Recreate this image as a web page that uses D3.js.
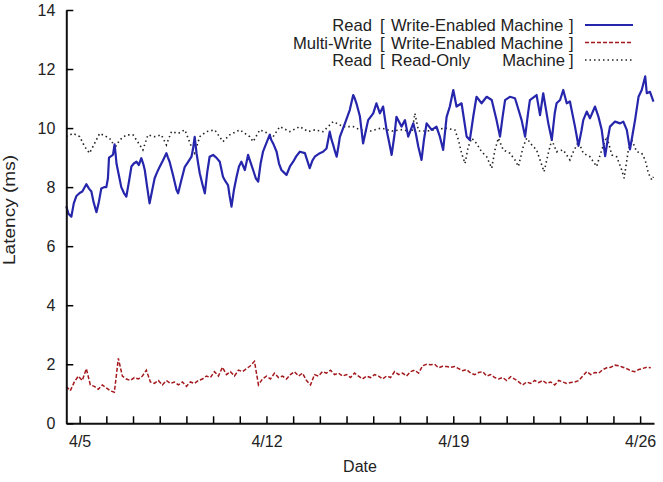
<!DOCTYPE html>
<html>
<head>
<meta charset="utf-8">
<script src="https://cdn.jsdelivr.net/npm/d3@7"></script>
<style>
  html, body { margin: 0; padding: 0; background: #fff; }
  svg { display: block; font-family: "Liberation Sans", Arial, Helvetica, sans-serif; }
</style>
</head>
<body>
<svg id="chart" width="663" height="482"></svg>
<script>
// ---- data (time in days since 4/5 00:00) ----
const dayTicks = d3.range(0, 22);
const labelDays = [0, 7, 14, 21];
const dateLabels = ["4/5", "4/12", "4/19", "4/26"];
const yTicks = [0, 2, 4, 6, 8, 10, 12, 14];

const readWriteMachine = [
  [-0.50,7.35],[-0.42,7.1],[-0.31,7.0],[-0.22,7.45],[-0.12,7.7],[0.00,7.8],[0.10,7.85],[0.25,8.1],
  [0.35,7.95],[0.44,7.85],[0.52,7.5],[0.63,7.15],[0.72,7.5],[0.81,7.95],[0.92,8.0],[1.00,8.0],
  [1.06,8.3],[1.10,9.0],[1.18,9.05],[1.25,9.1],[1.31,9.45],[1.35,9.1],[1.38,8.8],[1.47,8.4],
  [1.56,8.0],[1.66,7.8],[1.75,7.68],[1.85,8.2],[1.94,8.7],[2.03,8.8],[2.13,8.86],[2.22,8.75],
  [2.31,8.98],[2.38,8.8],[2.44,8.58],[2.53,8.0],[2.62,7.45],[2.72,7.9],[2.81,8.3],[2.90,8.5],
  [3.00,8.69],[3.12,8.9],[3.25,9.15],[3.31,9.0],[3.37,8.86],[3.50,8.4],[3.63,7.9],[3.69,7.79],
  [3.80,8.2],[3.94,8.69],[4.06,8.85],[4.19,9.03],[4.25,9.3],[4.31,9.7],[4.38,9.15],[4.44,8.8],
  [4.50,8.47],[4.60,8.1],[4.69,7.79],[4.78,8.5],[4.87,9.03],[5.00,9.09],[5.12,9.0],[5.25,8.86],
  [5.37,8.35],[5.46,8.2],[5.56,8.07],[5.62,7.7],[5.69,7.34],[5.78,7.9],[5.88,8.35],[5.97,8.7],
  [6.06,8.86],[6.19,8.58],[6.31,9.09],[6.40,8.85],[6.50,8.58],[6.60,8.3],[6.69,8.19],[6.78,8.8],
  [6.87,9.2],[7.00,9.5],[7.12,9.77],[7.18,9.6],[7.25,9.48],[7.38,9.2],[7.47,8.8],[7.56,8.58],
  [7.65,8.5],[7.75,8.41],[7.88,8.7],[8.00,8.86],[8.12,9.05],[8.25,9.2],[8.44,9.15],[8.53,8.9],
  [8.62,8.64],[8.72,8.9],[8.81,9.03],[9.00,9.15],[9.12,9.2],[9.25,9.31],[9.37,9.88],[9.44,9.6],
  [9.50,9.43],[9.57,9.2],[9.63,9.03],[9.70,9.4],[9.75,9.7],[9.94,10.16],[10.12,10.61],[10.25,11.12],
  [10.31,11.0],[10.37,10.84],[10.50,10.4],[10.62,9.48],[10.72,9.9],[10.81,10.27],[11.00,10.5],[11.12,10.84],
  [11.25,10.5],[11.37,10.73],[11.50,9.94],[11.60,9.5],[11.69,9.09],[11.80,9.8],[11.87,10.38],[12.06,10.05],
  [12.19,10.27],[12.31,9.71],[12.50,10.16],[12.60,9.8],[12.69,9.37],[12.81,8.92],[12.90,9.6],[13.00,10.16],
  [13.19,9.94],[13.37,10.05],[13.50,9.7],[13.62,9.26],[13.75,10.38],[13.87,10.73],[14.00,11.29],[14.12,10.73],
  [14.31,10.84],[14.50,9.71],[14.62,9.6],[14.75,10.4],[14.87,11.06],[15.06,10.84],[15.25,11.06],[15.44,10.95],
  [15.62,10.27],[15.75,9.71],[15.85,10.4],[15.94,10.95],[16.12,11.06],[16.31,11.01],[16.37,10.84],[16.56,10.27],
  [16.69,9.71],[16.80,10.5],[16.87,10.95],[17.12,11.12],[17.20,10.7],[17.25,10.44],[17.37,11.18],[17.56,10.16],
  [17.69,9.6],[17.80,10.5],[17.87,10.84],[18.00,10.95],[18.12,11.29],[18.25,10.84],[18.37,10.9],[18.56,10.05],
  [18.69,9.4],[18.80,9.9],[18.87,10.27],[19.00,10.56],[19.12,10.33],[19.31,10.73],[19.44,10.38],[19.56,9.94],
  [19.69,9.05],[19.80,9.7],[19.87,10.05],[20.06,10.22],[20.25,10.16],[20.37,10.22],[20.50,9.94],[20.62,9.28],
  [20.72,9.8],[20.81,10.27],[20.94,11.06],[21.06,11.29],[21.19,11.75],[21.25,11.18],[21.37,11.23],[21.50,10.9]
];

const readOnlyMachine = [
  [-0.50,9.71],[-0.25,9.82],[0.00,9.71],[0.19,9.37],[0.37,9.15],[0.56,9.48],[0.75,9.82],[1.00,9.71],
  [1.19,9.6],[1.31,9.31],[1.50,9.6],[1.75,9.77],[2.00,9.77],[2.25,9.43],[2.37,9.26],[2.56,9.77],
  [2.81,9.71],[3.06,9.77],[3.25,9.43],[3.44,9.88],[3.69,9.82],[3.94,9.94],[4.19,9.37],[4.31,9.15],
  [4.50,9.71],[4.75,9.88],[5.06,9.94],[5.37,9.54],[5.62,9.77],[6.00,9.94],[6.37,9.71],[6.50,9.54],
  [6.75,9.94],[7.06,9.82],[7.25,9.71],[7.50,10.05],[7.87,9.88],[8.25,10.05],[8.56,9.88],[8.81,9.94],
  [9.12,9.88],[9.50,10.22],[9.87,10.05],[10.25,10.05],[10.50,9.94],[10.90,9.9],[11.30,10.0],[11.70,9.9],
  [12.10,9.95],[12.45,9.85],[12.56,10.5],[12.70,9.9],[13.00,9.9],[13.40,9.95],[13.70,10.0],[14.06,9.94],
  [14.19,9.6],[14.31,9.15],[14.44,8.8],[14.56,9.37],[14.69,9.66],[14.87,9.48],[15.06,9.2],[15.25,9.03],
  [15.44,8.64],[15.56,9.26],[15.69,9.66],[15.87,9.26],[16.12,9.15],[16.31,8.92],[16.44,8.7],[16.62,9.37],
  [16.75,9.66],[16.94,9.43],[17.12,9.26],[17.25,8.92],[17.40,8.52],[17.56,9.15],[17.69,9.6],[17.87,9.2],
  [18.12,9.26],[18.37,8.92],[18.50,9.2],[18.69,9.54],[18.87,9.15],[19.12,9.03],[19.37,8.7],[19.56,9.26],
  [19.75,9.71],[19.94,9.09],[20.12,9.03],[20.31,8.58],[20.40,8.3],[20.56,9.26],[20.69,9.6],[20.87,9.2],
  [21.06,9.15],[21.19,8.92],[21.31,8.47],[21.44,8.24],[21.50,8.35]
];

// multi-write latency, one reading every 0.15 day starting 4/4 12:00
const multiWriteStart = -0.5;
const multiWriteStep = 0.15;
const multiWriteValues = [
  1.25,1.1,1.4,1.6,1.45,1.85,1.3,1.25,1.15,1.3,1.2,1.1,1.05,2.2,1.6,1.5,1.45,1.55,1.5,1.6,
  1.8,1.4,1.35,1.45,1.3,1.45,1.35,1.4,1.3,1.4,1.25,1.4,1.35,1.45,1.5,1.6,1.55,1.75,1.6,1.9,
  1.65,1.75,1.6,1.8,1.75,1.85,1.95,2.1,1.3,1.5,1.6,1.5,1.7,1.55,1.6,1.5,1.65,1.75,1.6,1.7,
  1.45,1.3,1.65,1.6,1.75,1.7,1.8,1.65,1.7,1.6,1.65,1.55,1.7,1.6,1.5,1.6,1.55,1.65,1.6,1.5,
  1.6,1.55,1.75,1.65,1.7,1.6,1.75,1.8,1.7,1.95,2.0,1.98,2.0,1.88,1.93,1.92,1.9,1.92,1.85,1.78,
  1.82,1.7,1.65,1.72,1.75,1.6,1.65,1.55,1.5,1.55,1.45,1.58,1.5,1.4,1.3,1.4,1.35,1.45,1.38,1.45,
  1.35,1.4,1.3,1.45,1.4,1.35,1.38,1.4,1.45,1.6,1.75,1.65,1.72,1.7,1.82,1.88,1.9,1.97,1.95,1.9,
  1.85,1.78,1.75,1.82,1.86,1.9,1.88
];

const legendLabels = ["Read", "Multi-Write", "Read"];
const legendMachines = [["Write-Enabled Machine", ""], ["Write-Enabled Machine", ""], ["Read-Only", "Machine"]];

// ---- drawing ----
const svg = d3.select("#chart");
const x = d3.scaleLinear().domain([-0.5, 21.52]).range([66.3, 654]);
const y = d3.scaleLinear().domain([0, 14]).range([423.3, 10]);

const multiWrite = multiWriteValues.map((v, i) => [multiWriteStart + i * multiWriteStep, v]);

const line = d3.line().x(d => x(d[0])).y(d => y(d[1]));

svg.append("path").datum(multiWrite).attr("d", line)
  .attr("fill", "none").attr("stroke", "#a3181c").attr("stroke-width", 1.5)
  .attr("stroke-dasharray", "4,2");

svg.append("path").datum(readOnlyMachine).attr("d", line)
  .attr("fill", "none").attr("stroke", "#222").attr("stroke-width", 1.6)
  .attr("stroke-dasharray", "1.5,3");

svg.append("path").datum(readWriteMachine).attr("d", line)
  .attr("fill", "none").attr("stroke", "#2626ad").attr("stroke-width", 2.2)
  .attr("stroke-linejoin", "round");

// axes
const xAxis = d3.axisBottom(x).tickValues(dayTicks)
  .tickFormat(d => { const k = labelDays.indexOf(d); return k >= 0 ? dateLabels[k] : ""; })
  .tickSizeInner(-7).tickSizeOuter(0).tickPadding(12);
const gx = svg.append("g").attr("transform", "translate(0,423.3)").call(xAxis);

const yAxis = d3.axisLeft(y).tickValues(yTicks).tickFormat(d3.format("d"))
  .tickSizeInner(-7).tickSizeOuter(0).tickPadding(11);
const gy = svg.append("g").attr("transform", "translate(66.3,0)").call(yAxis);

[gx, gy].forEach(g => {
  g.select("path.domain").attr("stroke", "#111").attr("stroke-width", 2);
  g.selectAll(".tick line").attr("stroke", "#000").attr("stroke-width", 1.5);
  g.selectAll(".tick text").attr("fill", "#222").attr("font-size", 16);
});

svg.append("text").attr("x", 360).attr("y", 471.5).attr("text-anchor", "middle")
  .attr("font-size", 16).attr("fill", "#222").text("Date");
svg.append("text").attr("transform", "translate(15,210) rotate(-90)").attr("text-anchor", "middle")
  .attr("font-size", 16).attr("fill", "#222")
  .attr("textLength", 110).attr("lengthAdjust", "spacingAndGlyphs").text("Latency (ms)");

// legend
const legRows = [31, 48.5, 66];
const legStyles = [
  {stroke: "#2626ad", w: 2.2, dash: null},
  {stroke: "#a3181c", w: 1.5, dash: "4,2"},
  {stroke: "#222", w: 1.6, dash: "1.5,3"}
];
const leg = svg.append("g").attr("font-size", 16.6).attr("fill", "#222");
legendLabels.forEach((lab, i) => {
  const by = legRows[i];
  leg.append("text").attr("x", 372).attr("y", by).attr("text-anchor", "end").text(lab);
  leg.append("text").attr("x", 380).attr("y", by).text("[");
  leg.append("text").attr("x", 391).attr("y", by).text(legendMachines[i][0]);
  if (legendMachines[i][1]) {
    leg.append("text").attr("x", 565).attr("y", by).attr("text-anchor", "end").text(legendMachines[i][1]);
  }
  leg.append("text").attr("x", 569).attr("y", by).text("]");
  const s = legStyles[i];
  const ln = leg.append("line").attr("x1", 585).attr("x2", 633).attr("y1", by - 6).attr("y2", by - 6)
    .attr("stroke", s.stroke).attr("stroke-width", s.w);
  if (s.dash) ln.attr("stroke-dasharray", s.dash);
});
</script>
</body>
</html>
